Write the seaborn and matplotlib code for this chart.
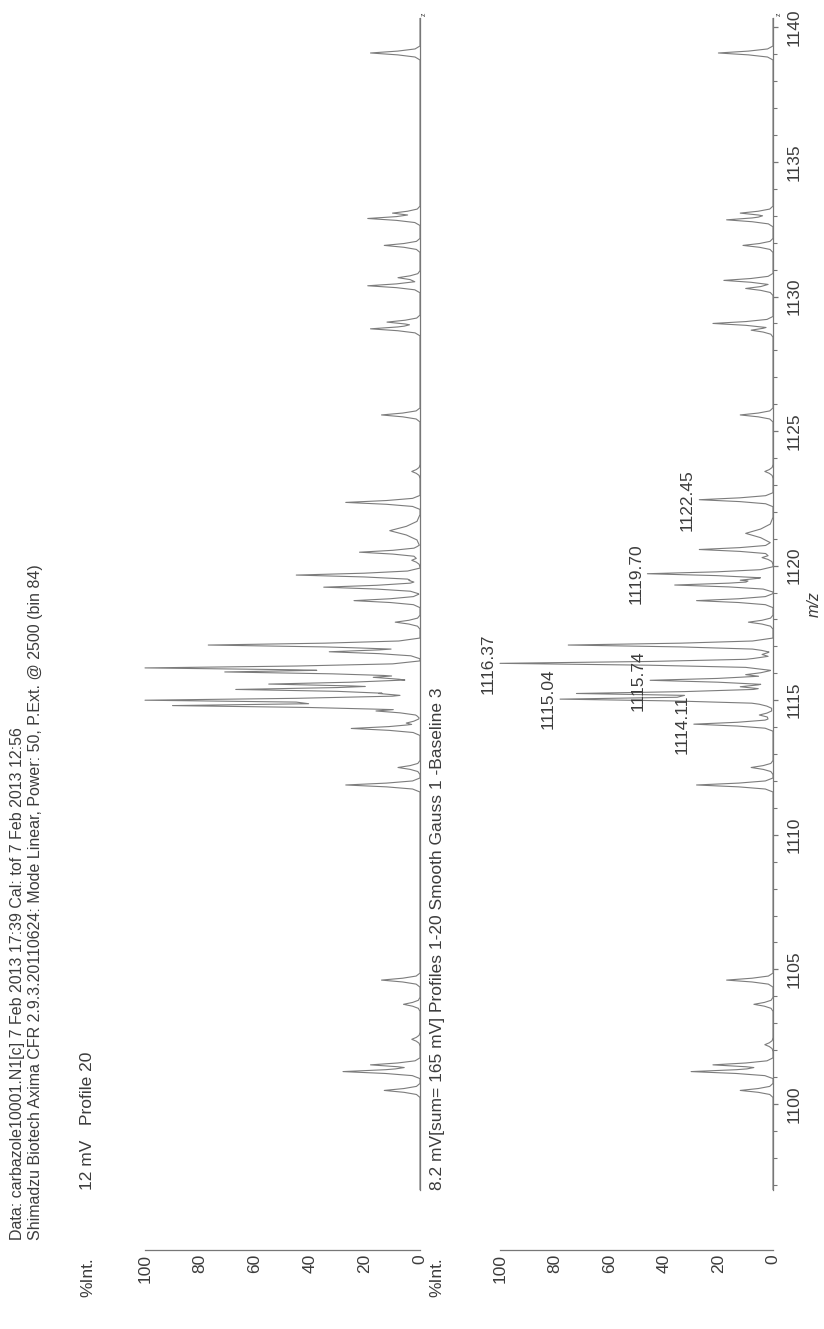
import numpy as np
import pandas as pd
import matplotlib
matplotlib.use("Agg")
import matplotlib.pyplot as plt
from matplotlib.ticker import MultipleLocator
import seaborn as sns

sns.set_style("white")
plt.rcParams['font.family'] = ['Liberation Sans', 'DejaVu Sans']

# ---------------- data ----------------
top_mz = [1100.5, 1101.2, 1101.45, 1102.4, 1103.7, 1104.6,
          1111.85, 1112.5, 1113.95, 1114.15, 1114.6, 1114.8, 1115.0, 1115.25,
          1115.4, 1115.6, 1115.85, 1116.05, 1116.2, 1116.8, 1117.05, 1117.9,
          1118.7, 1119.2, 1119.45, 1119.65, 1120.2, 1120.5, 1121.3, 1122.35,
          1123.5, 1125.6, 1128.8, 1129.05, 1130.4, 1130.7, 1131.9, 1132.9,
          1133.1, 1139.05]
top_int = [13, 28, 18, 3, 6, 14,
           27, 8, 25, 5, 16, 90, 100, 15,
           67, 55, 17, 71, 100, 33, 77, 9,
           24, 35, 4, 45, 3, 22, 11, 27,
           3, 14, 18, 12, 19, 8, 13, 19,
           10, 18]

bot_mz = [1100.5, 1101.2, 1101.45, 1102.2, 1103.7, 1104.6,
          1111.85, 1112.5, 1114.11, 1114.45, 1114.85, 1115.04, 1115.25, 1115.5,
          1115.74, 1115.95, 1116.37, 1116.7, 1117.05, 1117.9, 1118.7, 1119.28,
          1119.46, 1119.70, 1120.3, 1120.6, 1121.2, 1122.45, 1123.5, 1125.6,
          1128.75, 1129.0, 1130.3, 1130.6, 1131.9, 1132.85, 1133.1, 1139.05]
bot_int = [12, 30, 22, 3, 7, 17,
           28, 8, 29, 5, 5, 78, 72, 12,
           45, 10, 100, 4, 75, 9, 28, 36,
           12, 46, 4, 27, 10, 27, 3, 12,
           8, 22, 10, 18, 11, 17, 12, 20]

broad_mz = [1121.2, 1121.3]

label_mz = [1114.11, 1115.04, 1115.74, 1116.37, 1119.70, 1122.45]
label_int = [29, 78, 45, 100, 46, 27]

mz_ticks = [1100, 1105, 1110, 1115, 1120, 1125, 1130, 1135, 1140]
int_ticks = [0, 20, 40, 60, 80, 100]

header_1 = "Data: carbazole10001.N1[c] 7 Feb 2013 17:39 Cal: tof 7 Feb 2013 12:56"
header_2 = "Shimadzu Biotech Axima CFR 2.9.3.20110624: Mode Linear, Power: 50, P.Ext. @ 2500 (bin 84)"
top_title = "12 mV   Profile 20"
bot_title = "8.2 mV[sum= 165 mV] Profiles 1-20 Smooth Gauss 1 -Baseline 3"
int_label = "%Int."
mz_label = "m/z"

# ---------------- layout ----------------
W, H = 824, 1329
MZ_MIN, MZ_MAX = 1096.8, 1140.35
LINE = "#7c7c7c"
AX = "#777777"
TXT = "#3c3c3c"
FS = 12.5

SHAPE_OFF = np.array([-0.26, -0.15, -0.07, 0.0, 0.07, 0.15, 0.26])
SHAPE_FR = np.array([0.0, 0.1, 0.45, 1.0, 0.45, 0.1, 0.0])


def build_profile(mz, inten):
    pts = {MZ_MIN, MZ_MAX}
    shapes = []
    for m, h in zip(mz, inten):
        sc = 2.3 if any(abs(m - b) < 0.15 for b in broad_mz) else 1.0
        xs = m + SHAPE_OFF * sc
        shapes.append((xs, h))
        pts.update(np.round(xs, 4))
    pts = np.array(sorted(pts))
    vals = np.zeros_like(pts)
    for xs, h in shapes:
        vals = np.maximum(vals, h * np.interp(pts, xs, SHAPE_FR, left=0, right=0))
    return pd.DataFrame({"mz": pts, "int": vals})


fig = plt.figure(figsize=(W / 100, H / 100), dpi=100)
fig.patch.set_facecolor("white")


def px_axes(left, right, top, bottom):
    return fig.add_axes([left / W, 1 - bottom / H, (right - left) / W, (bottom - top) / H])


def style_axes(ax, show_mz):
    ax.set_facecolor("none")
    ax.set_xlim(105, 0)
    ax.set_ylim(MZ_MIN, MZ_MAX)
    for s in ("top", "left"):
        ax.spines[s].set_visible(False)
    for s in ("right", "bottom"):
        ax.spines[s].set_color(AX)
        ax.spines[s].set_linewidth(0.9)
    ax.spines["bottom"].set_position(("outward", 43))
    ax.spines["bottom"].set_bounds(0, 100)
    ax.set_xticks(int_ticks)
    ax.xaxis.set_minor_locator(MultipleLocator(5))
    ax.tick_params(axis="x", which="major", direction="in", length=5, width=0.9, color=AX,
                   labelsize=FS, labelcolor=TXT, pad=3, labelrotation=90)
    ax.tick_params(axis="x", which="minor", direction="in", length=3.5, width=0.8, color=AX)
    for lab in ax.get_xticklabels():
        lab.set_va("top")
        lab.set_ha("center")
    ax.set_xlabel("")
    ax.set_ylabel("")
    ax.yaxis.tick_right()
    if show_mz:
        ax.set_yticks(mz_ticks)
        ax.yaxis.set_minor_locator(MultipleLocator(1))
        ax.tick_params(axis="y", which="major", direction="out", length=3.5, width=0.9, color=AX,
                       labelsize=FS, labelcolor=TXT, pad=6, left=False)
        ax.tick_params(axis="y", which="minor", direction="out", length=3, width=0.8, color=AX, left=False)
        for lab in ax.get_yticklabels():
            lab.set_rotation(90)
            lab.set_va("center")
    else:
        ax.set_yticks([])
        ax.tick_params(axis="y", which="both", left=False, right=False)


# top panel: 0 at x=420, 100 at x=145
ax_top = px_axes(420 - 105 * 2.75, 420, 18, 1190)
df_top = build_profile(top_mz, top_int)
sns.lineplot(data=df_top, x="int", y="mz", orient="y", estimator=None, sort=True,
             ax=ax_top, color=LINE, linewidth=0.8)
style_axes(ax_top, False)

# bottom panel: 0 at x=773, 100 at x=500
ax_bot = px_axes(773 - 105 * 2.73, 773, 18, 1190)
df_bot = build_profile(bot_mz, bot_int)
sns.lineplot(data=df_bot, x="int", y="mz", orient="y", estimator=None, sort=True,
             ax=ax_bot, color=LINE, linewidth=0.8)
style_axes(ax_bot, True)

for m, h in zip(label_mz, label_int):
    ax_bot.annotate(f"{m:.2f}", xy=(h, m), xytext=(-3, 0), textcoords="offset points",
                    rotation=90, ha="right", va="center", fontsize=FS, color=TXT)

ax_bot.text(1.0 + 34 / ax_bot.bbox.width, 0.5, mz_label, transform=ax_bot.transAxes,
            rotation=90, ha="left", va="center", fontsize=FS - 1, color=TXT, style="italic")


def ftext(x, y, s, va="bottom", size=FS):
    fig.text(x / W, 1 - y / H, s, rotation=90, ha="center", va=va,
             fontsize=size, color=TXT)


ftext(18, 1240, header_1, size=11.5)
ftext(36, 1240, header_2, size=11.5)
ftext(88, 1190, top_title)
ftext(88, 1277, int_label, va="center")
ftext(437, 1190, bot_title)
ftext(437, 1277, int_label, va="center")
ftext(424, 14, "z", va="center", size=5)
ftext(779, 14, "z", va="center", size=5)

fig.savefig("out.png", dpi=100, facecolor="white")
